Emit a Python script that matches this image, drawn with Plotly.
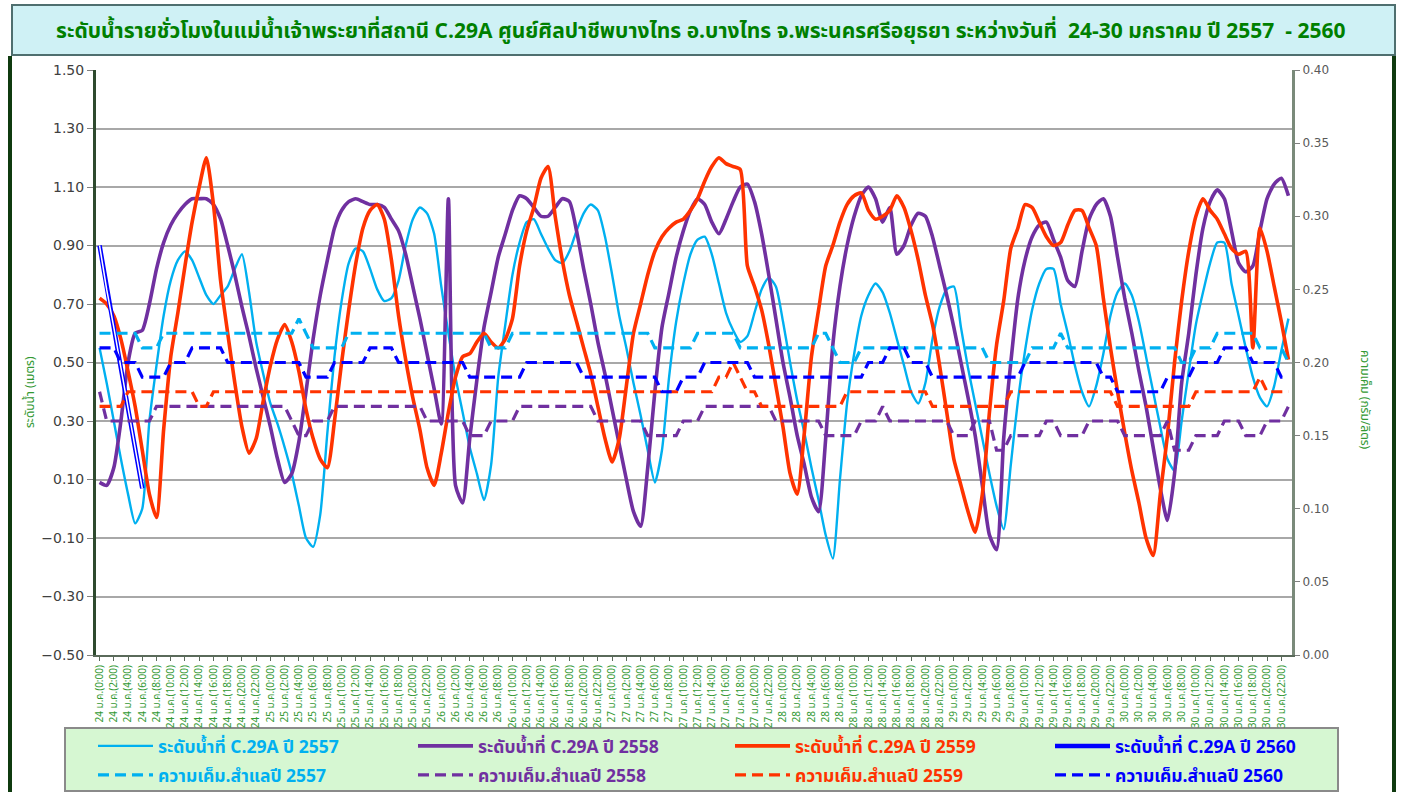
import plotly.graph_objects as go

# ---------------- data ----------------
days = [24, 25, 26, 27, 28, 29, 30]
month = "ม.ค."
hours_lbl = [0, 2, 4, 6, 8, 10, 12, 14, 16, 18, 20, 22]
tick_labels = [f"{d} {month}({h}:00)" for d in days for h in hours_lbl]

# water level (m), hourly 24 Jan 0:00 .. 30 Jan 23:00
level_2557 = [
    0.55, 0.43, 0.30, 0.17, 0.05, -0.05, 0.00, 0.30, 0.49, 0.66, 0.78, 0.85, 0.88, 0.85, 0.79, 0.73, 0.70, 0.73, 0.76, 0.82, 0.87, 0.74, 0.57, 0.46,
    0.36, 0.29, 0.21, 0.12, 0.01, -0.10, -0.13, -0.02, 0.26, 0.52, 0.71, 0.84, 0.89, 0.88, 0.82, 0.75, 0.71, 0.72, 0.78, 0.90, 0.99, 1.03, 1.01, 0.94,
    0.76, 0.60, 0.45, 0.33, 0.21, 0.12, 0.03, 0.15, 0.45, 0.63, 0.80, 0.91, 0.98, 0.99, 0.94, 0.89, 0.85, 0.84, 0.88, 0.95, 1.01, 1.04, 1.02, 0.93,
    0.80, 0.66, 0.55, 0.43, 0.32, 0.20, 0.09, 0.20, 0.45, 0.64, 0.77, 0.87, 0.92, 0.93, 0.87, 0.77, 0.67, 0.61, 0.57, 0.59, 0.67, 0.75, 0.79, 0.76,
    0.64, 0.50, 0.37, 0.26, 0.14, 0.03, -0.09, -0.17, 0.10, 0.36, 0.53, 0.66, 0.73, 0.77, 0.74, 0.67, 0.58, 0.49, 0.40, 0.36, 0.43, 0.58, 0.69, 0.75,
    0.76, 0.62, 0.48, 0.36, 0.24, 0.12, 0.01, -0.07, 0.15, 0.37, 0.54, 0.68, 0.77, 0.82, 0.82, 0.70, 0.60, 0.49, 0.40, 0.35, 0.42, 0.53, 0.66, 0.74,
    0.77, 0.73, 0.64, 0.52, 0.40, 0.28, 0.17, 0.13, 0.30, 0.47, 0.63, 0.74, 0.84, 0.91, 0.91, 0.77, 0.66, 0.55, 0.45, 0.38, 0.35, 0.42, 0.54, 0.65,
]
level_2558 = [
    0.09, 0.08, 0.14, 0.30, 0.50, 0.60, 0.61, 0.70, 0.82, 0.91, 0.97, 1.01, 1.04, 1.06, 1.06, 1.06, 1.04, 0.99, 0.90, 0.80, 0.69, 0.59, 0.48, 0.38,
    0.28, 0.17, 0.09, 0.12, 0.23, 0.40, 0.58, 0.73, 0.85, 0.96, 1.02, 1.05, 1.06, 1.05, 1.04, 1.04, 1.03, 0.99, 0.95, 0.87, 0.76, 0.65, 0.53, 0.41,
    0.29, 1.06, 0.08, 0.02, 0.24, 0.44, 0.62, 0.74, 0.86, 0.94, 1.02, 1.07, 1.06, 1.03, 1.00, 1.00, 1.03, 1.06, 1.05, 0.95, 0.82, 0.70, 0.57, 0.46,
    0.34, 0.22, 0.10, -0.01, -0.06, 0.14, 0.40, 0.62, 0.74, 0.86, 0.95, 1.02, 1.06, 1.04, 0.98, 0.94, 0.99, 1.05, 1.10, 1.11, 1.05, 0.94, 0.80, 0.65,
    0.50, 0.38, 0.25, 0.15, 0.04, -0.01, 0.24, 0.56, 0.76, 0.90, 1.00, 1.07, 1.10, 1.06, 0.98, 1.03, 0.87, 0.90, 0.97, 1.01, 1.00, 0.93, 0.83, 0.73,
    0.62, 0.50, 0.38, 0.25, 0.08, -0.09, -0.14, 0.24, 0.50, 0.72, 0.85, 0.93, 0.97, 0.98, 0.92, 0.86, 0.78, 0.76, 0.88, 0.99, 1.04, 1.06, 1.00, 0.86,
    0.72, 0.60, 0.47, 0.35, 0.21, 0.07, -0.04, 0.12, 0.43, 0.60, 0.80, 0.96, 1.05, 1.09, 1.06, 0.95, 0.84, 0.81, 0.83, 0.95, 1.06, 1.11, 1.13, 1.07,
]
level_2559 = [
    0.72, 0.70, 0.66, 0.58, 0.47, 0.35, 0.20, 0.05, -0.03, 0.27, 0.52, 0.67, 0.83, 0.98, 1.10, 1.20, 1.04, 0.78, 0.60, 0.43, 0.28, 0.19, 0.24, 0.37,
    0.49, 0.58, 0.63, 0.57, 0.47, 0.34, 0.24, 0.17, 0.14, 0.30, 0.50, 0.68, 0.84, 0.96, 1.02, 1.04, 0.99, 0.85, 0.66, 0.51, 0.38, 0.27, 0.14, 0.08,
    0.19, 0.33, 0.45, 0.52, 0.53, 0.57, 0.60, 0.57, 0.55, 0.58, 0.65, 0.83, 0.95, 1.03, 1.13, 1.17, 1.00, 0.85, 0.73, 0.64, 0.55, 0.46, 0.35, 0.24,
    0.16, 0.24, 0.42, 0.60, 0.70, 0.80, 0.88, 0.93, 0.96, 0.98, 0.99, 1.02, 1.06, 1.12, 1.17, 1.20, 1.18, 1.17, 1.16, 0.83, 0.76, 0.68, 0.56, 0.42,
    0.28, 0.12, 0.05, 0.26, 0.52, 0.68, 0.83, 0.90, 0.98, 1.04, 1.07, 1.08, 1.02, 0.99, 1.00, 1.02, 1.07, 1.03, 0.95, 0.85, 0.73, 0.63, 0.49, 0.33,
    0.17, 0.08, -0.01, -0.08, 0.05, 0.33, 0.56, 0.71, 0.89, 0.96, 1.04, 1.03, 0.98, 0.93, 0.90, 0.91, 0.97, 1.02, 1.02, 0.96, 0.90, 0.72, 0.55, 0.40,
    0.26, 0.13, 0.02, -0.10, -0.16, 0.05, 0.25, 0.50, 0.71, 0.88, 1.00, 1.06, 1.02, 0.99, 0.94, 0.89, 0.87, 0.88, 0.55, 0.96, 0.88, 0.76, 0.64, 0.51,
]
level_2560 = [0.90, 0.75, 0.62, 0.48, 0.34, 0.20, 0.07]

# salinity (g/l), hourly
sal_2557 = [
    0.22, 0.22, 0.22, 0.22, 0.22, 0.22, 0.21, 0.21, 0.21, 0.22, 0.22, 0.22, 0.22, 0.22, 0.22, 0.22, 0.22, 0.22, 0.22, 0.22, 0.22, 0.22, 0.22, 0.22,
    0.22, 0.22, 0.22, 0.22, 0.23, 0.22, 0.21, 0.21, 0.21, 0.21, 0.21, 0.22, 0.22, 0.22, 0.22, 0.22, 0.22, 0.22, 0.22, 0.22, 0.22, 0.22, 0.22, 0.22,
    0.22, 0.22, 0.22, 0.22, 0.22, 0.22, 0.22, 0.21, 0.21, 0.21, 0.22, 0.22, 0.22, 0.22, 0.22, 0.22, 0.22, 0.22, 0.22, 0.22, 0.22, 0.22, 0.22, 0.22,
    0.22, 0.22, 0.22, 0.22, 0.22, 0.22, 0.21, 0.21, 0.21, 0.21, 0.21, 0.21, 0.22, 0.22, 0.22, 0.22, 0.22, 0.22, 0.21, 0.21, 0.21, 0.21, 0.21, 0.21,
    0.21, 0.21, 0.21, 0.21, 0.21, 0.22, 0.22, 0.21, 0.20, 0.20, 0.20, 0.21, 0.21, 0.21, 0.21, 0.21, 0.21, 0.21, 0.21, 0.21, 0.21, 0.21, 0.21, 0.21,
    0.21, 0.21, 0.21, 0.21, 0.21, 0.20, 0.20, 0.20, 0.20, 0.20, 0.20, 0.21, 0.21, 0.21, 0.21, 0.22, 0.21, 0.21, 0.21, 0.21, 0.21, 0.21, 0.21, 0.21,
    0.21, 0.21, 0.21, 0.21, 0.21, 0.21, 0.21, 0.21, 0.20, 0.20, 0.21, 0.21, 0.21, 0.22, 0.22, 0.22, 0.22, 0.22, 0.22, 0.21, 0.21, 0.21, 0.21, 0.20,
]
sal_2558 = [
    0.18, 0.16, 0.16, 0.16, 0.16, 0.16, 0.16, 0.16, 0.17, 0.17, 0.17, 0.17, 0.17, 0.17, 0.17, 0.17, 0.17, 0.17, 0.17, 0.17, 0.17, 0.17, 0.17, 0.17,
    0.17, 0.17, 0.17, 0.16, 0.15, 0.15, 0.16, 0.16, 0.16, 0.17, 0.17, 0.17, 0.17, 0.17, 0.17, 0.17, 0.17, 0.17, 0.17, 0.17, 0.17, 0.17, 0.16, 0.16,
    0.16, 0.16, 0.16, 0.16, 0.15, 0.15, 0.15, 0.16, 0.16, 0.16, 0.16, 0.17, 0.17, 0.17, 0.17, 0.17, 0.17, 0.17, 0.17, 0.17, 0.17, 0.17, 0.16, 0.16,
    0.16, 0.16, 0.16, 0.16, 0.16, 0.15, 0.15, 0.15, 0.15, 0.15, 0.16, 0.16, 0.16, 0.17, 0.17, 0.17, 0.17, 0.17, 0.17, 0.17, 0.17, 0.17, 0.17, 0.16,
    0.16, 0.16, 0.16, 0.16, 0.16, 0.16, 0.15, 0.15, 0.15, 0.15, 0.15, 0.16, 0.16, 0.16, 0.17, 0.16, 0.16, 0.16, 0.16, 0.16, 0.16, 0.16, 0.16, 0.16,
    0.15, 0.15, 0.15, 0.16, 0.16, 0.16, 0.14, 0.14, 0.15, 0.15, 0.15, 0.15, 0.15, 0.16, 0.16, 0.15, 0.15, 0.15, 0.15, 0.16, 0.16, 0.16, 0.16, 0.16,
    0.15, 0.15, 0.15, 0.15, 0.15, 0.15, 0.16, 0.14, 0.14, 0.14, 0.15, 0.15, 0.15, 0.15, 0.16, 0.16, 0.16, 0.15, 0.15, 0.15, 0.16, 0.16, 0.16, 0.17,
]
sal_2559 = [
    0.17, 0.17, 0.17, 0.17, 0.18, 0.18, 0.18, 0.18, 0.18, 0.18, 0.18, 0.18, 0.18, 0.18, 0.17, 0.17, 0.18, 0.18, 0.18, 0.18, 0.18, 0.18, 0.18, 0.18,
    0.18, 0.18, 0.18, 0.18, 0.18, 0.18, 0.18, 0.18, 0.18, 0.18, 0.18, 0.18, 0.18, 0.18, 0.18, 0.18, 0.18, 0.18, 0.18, 0.18, 0.18, 0.18, 0.18, 0.18,
    0.18, 0.18, 0.18, 0.18, 0.18, 0.18, 0.18, 0.18, 0.18, 0.18, 0.18, 0.18, 0.18, 0.18, 0.18, 0.18, 0.18, 0.18, 0.18, 0.18, 0.18, 0.18, 0.18, 0.18,
    0.18, 0.18, 0.18, 0.18, 0.18, 0.18, 0.18, 0.18, 0.18, 0.18, 0.18, 0.18, 0.18, 0.18, 0.18, 0.19, 0.19, 0.20, 0.19, 0.18, 0.18, 0.17, 0.17, 0.17,
    0.17, 0.17, 0.17, 0.17, 0.17, 0.17, 0.17, 0.17, 0.17, 0.18, 0.18, 0.18, 0.18, 0.18, 0.18, 0.18, 0.18, 0.18, 0.18, 0.18, 0.18, 0.17, 0.17, 0.17,
    0.17, 0.17, 0.17, 0.17, 0.17, 0.17, 0.17, 0.17, 0.18, 0.18, 0.18, 0.18, 0.18, 0.18, 0.18, 0.18, 0.18, 0.18, 0.18, 0.18, 0.18, 0.18, 0.18, 0.17,
    0.17, 0.17, 0.17, 0.17, 0.17, 0.17, 0.17, 0.17, 0.17, 0.17, 0.18, 0.18, 0.18, 0.18, 0.18, 0.18, 0.18, 0.18, 0.18, 0.19, 0.18, 0.18, 0.18, 0.18,
]
sal_2560 = [
    0.21, 0.21, 0.21, 0.20, 0.20, 0.20, 0.19, 0.19, 0.19, 0.19, 0.20, 0.20, 0.20, 0.21, 0.21, 0.21, 0.21, 0.21, 0.20, 0.20, 0.20, 0.20, 0.20, 0.20,
    0.20, 0.20, 0.20, 0.20, 0.20, 0.19, 0.19, 0.19, 0.19, 0.20, 0.20, 0.20, 0.20, 0.20, 0.21, 0.21, 0.21, 0.21, 0.20, 0.20, 0.20, 0.20, 0.20, 0.20,
    0.20, 0.20, 0.20, 0.20, 0.19, 0.19, 0.19, 0.19, 0.19, 0.19, 0.19, 0.19, 0.20, 0.20, 0.20, 0.20, 0.20, 0.20, 0.20, 0.20, 0.19, 0.19, 0.19, 0.19,
    0.19, 0.19, 0.19, 0.19, 0.19, 0.19, 0.19, 0.18, 0.18, 0.18, 0.19, 0.19, 0.19, 0.20, 0.20, 0.20, 0.20, 0.20, 0.20, 0.20, 0.19, 0.19, 0.19, 0.19,
    0.19, 0.19, 0.19, 0.19, 0.19, 0.19, 0.19, 0.19, 0.19, 0.19, 0.19, 0.19, 0.20, 0.20, 0.20, 0.21, 0.21, 0.21, 0.20, 0.20, 0.20, 0.19, 0.19, 0.19,
    0.19, 0.19, 0.19, 0.19, 0.19, 0.19, 0.19, 0.19, 0.19, 0.19, 0.20, 0.20, 0.20, 0.20, 0.20, 0.20, 0.20, 0.20, 0.20, 0.20, 0.20, 0.19, 0.19, 0.18,
    0.18, 0.18, 0.18, 0.18, 0.18, 0.18, 0.19, 0.19, 0.19, 0.19, 0.20, 0.20, 0.20, 0.20, 0.21, 0.21, 0.21, 0.21, 0.20, 0.20, 0.20, 0.20, 0.19, 0.19,
]

years = ["2557", "2558", "2559", "2560"]
colors = {"2557": "#00B0F0", "2558": "#7030A0", "2559": "#FF3300", "2560": "#0000FF"}

# ---------------- figure ----------------
W, H = 1404, 792
L, R, T, B = 96, 1292, 70, 655


def px(x):
    return (x - L) / (R - L)


def py(y):
    return (B - y) / (B - T)


hrs = list(range(len(level_2557)))
FONT = "Tahoma, 'Noto Sans Thai', 'Noto Sans', 'DejaVu Sans', sans-serif"

fig = go.Figure()

levels = {"2557": level_2557, "2558": level_2558, "2559": level_2559}
widths = {"2557": 2.4, "2558": 3.6, "2559": 3.6}
for i, yr in enumerate(["2557", "2558", "2559"]):
    fig.add_trace(go.Scatter(
        x=hrs, y=levels[yr], mode="lines",
        line=dict(color=colors[yr], width=widths[yr], shape="spline", smoothing=0.6),
        name=f'<span style="color:{colors[yr]}"><b>ระดับน้ำที่ C.29A ปี {yr}</b></span>',
        legend="legend" if i == 0 else f"legend{i + 1}",
    ))
fig.add_trace(go.Scatter(
    x=hrs[:len(level_2560)], y=level_2560, mode="lines",
    line=dict(color=colors["2560"], width=4.5),
    name=f'<span style="color:{colors["2560"]}"><b>ระดับน้ำที่ C.29A ปี 2560</b></span>',
    legend="legend4",
))
fig.add_trace(go.Scatter(
    x=hrs[:len(level_2560)], y=level_2560, mode="lines",
    line=dict(color="white", width=1.5), showlegend=False, hoverinfo="skip",
))

sals = {"2557": sal_2557, "2558": sal_2558, "2559": sal_2559, "2560": sal_2560}
for i, yr in enumerate(years):
    fig.add_trace(go.Scatter(
        x=hrs, y=sals[yr], mode="lines", yaxis="y2",
        line=dict(color=colors[yr], width=3.2, dash="11px,6px"),
        name=f'<span style="color:{colors[yr]}"><b>ความเค็ม.สำแลปี {yr}</b></span>',
        legend=f"legend{i + 5}",
    ))

title_txt = ("ระดับน้ำรายชั่วโมงในแม่น้ำเจ้าพระยาที่สถานี C.29A ศูนย์ศิลปาชีพบางไทร อ.บางไทร "
             "จ.พระนครศรีอยุธยา ระหว่างวันที่  24-30 มกราคม ปี 2557  - 2560")

shapes = [
    # title box
    dict(type="rect", xref="paper", yref="paper", x0=px(12), x1=px(1395), y0=py(55), y1=py(5),
         fillcolor="#CFF1F5", line=dict(color="#4F6F6F", width=2), layer="below"),
    # legend box
    dict(type="rect", xref="paper", yref="paper", x0=px(65), x1=px(1338), y0=py(791), y1=py(728),
         fillcolor="#D6F7D2", line=dict(color="#8A8A8A", width=2), layer="below"),
    # outer frame lines
    dict(type="line", xref="paper", yref="paper", x0=px(10), x1=px(10), y0=py(792), y1=py(56),
         line=dict(color="#0F3A0F", width=4)),
    dict(type="line", xref="paper", yref="paper", x0=px(1394), x1=px(1394), y0=py(792), y1=py(56),
         line=dict(color="#0F3A0F", width=4)),
]

annotations = [
    dict(text="<b>" + title_txt + "</b>", xref="paper", yref="paper", x=px(700), y=py(31), showarrow=False,
         font=dict(size=21, color="#008000", family=FONT), xanchor="center", yanchor="middle"),
    dict(text="ระดับน้ำ (เมตร)", xref="paper", yref="paper", x=px(30), y=py(392), showarrow=False,
         textangle=-90, xanchor="center", yanchor="middle",
         font=dict(size=12, color="#339933", family=FONT)),
    dict(text="ความเค็ม (กรัม/ลิตร)", xref="paper", yref="paper", x=px(1365), y=py(400), showarrow=False,
         textangle=90, xanchor="center", yanchor="middle",
         font=dict(size=12, color="#339933", family=FONT)),
]

leg_common = dict(orientation="h", xref="container", yref="container", xanchor="left", yanchor="middle",
                  itemwidth=55, font=dict(size=17.5, family=FONT), bgcolor="rgba(0,0,0,0)")
col_x = [93, 413, 730, 1050]
row_y = [746, 775]
legends = {}
for r in range(2):
    for c in range(4):
        k = r * 4 + c + 1
        key = "legend" if k == 1 else f"legend{k}"
        legends[key] = dict(x=col_x[c] / W, y=1 - row_y[r] / H, **leg_common)

fig.update_layout(
    width=W, height=H,
    margin=dict(l=L, r=W - R, t=T, b=H - B, autoexpand=False),
    paper_bgcolor="white", plot_bgcolor="white",
    font=dict(family=FONT),
    showlegend=True,
    xaxis=dict(range=[-0.5, len(hrs) - 0.5], tickmode="array",
               tickvals=hrs[::2], ticktext=tick_labels, tickangle=-90,
               tickfont=dict(size=10, color="#339933", family=FONT),
               showgrid=False, zeroline=False, showline=True, linecolor="#5A6A5A", linewidth=2,
               ticks="outside", ticklen=4, tickcolor="#5A6A5A", automargin=False),
    yaxis=dict(range=[-0.5, 1.5], dtick=0.2, tick0=-0.5, tickformat=".2f",
               tickfont=dict(size=14, color="#404040", family="DejaVu Sans, Verdana, sans-serif"),
               showgrid=True, gridcolor="#A8A8A8", gridwidth=1.5, zeroline=False,
               showline=True, linecolor="#2E4A2E", linewidth=3, ticks="outside", ticklen=6,
               tickcolor="#808080", automargin=False),
    yaxis2=dict(range=[0, 0.40], dtick=0.05, tickformat=".2f", overlaying="y", side="right",
                tickfont=dict(size=12, color="#595959", family="DejaVu Sans, Verdana, sans-serif"),
                showgrid=False, zeroline=False, showline=True, linecolor="#7A8A7A", linewidth=3,
                ticks="outside", ticklen=5, tickcolor="#808080", automargin=False),
    shapes=shapes, annotations=annotations,
    **legends,
)

fig.write_html("out.html", config={"displayModeBar": False},
               post_script="document.body.style.margin='0px';document.body.style.overflow='hidden';")
